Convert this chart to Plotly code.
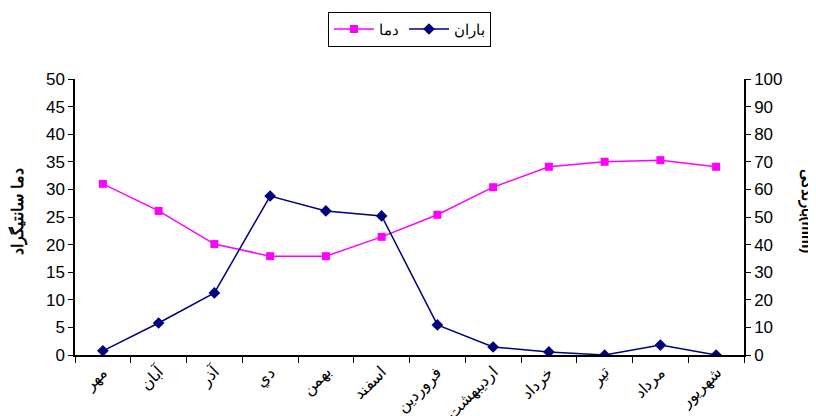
import plotly.graph_objects as go

months = ["مهر", "آبان", "آذر", "دي", "بهمن", "اسفند",
          "فروردین", "اردیبهشت", "خرداد", "تیر", "مرداد", "شهریور"]
temperature = [31.0, 26.1, 20.1, 17.9, 17.9, 21.4, 25.4, 30.4, 34.1, 35.0, 35.3, 34.1]
rainfall = [1.5, 11.6, 22.5, 57.6, 52.2, 50.4, 10.9, 2.9, 1.1, 0.0, 3.6, 0.0]

temp_name = "دما"
rain_name = "باران"
left_title = "دما سانتیگراد"
right_title = "بارندگی(mm)"

font_family = "Liberation Sans, Arial, sans-serif"

fig = go.Figure()
fig.add_trace(go.Scatter(
    x=months, y=temperature, name=temp_name, mode="lines+markers",
    line=dict(color="#FF00FF", width=1.5),
    marker=dict(symbol="square", size=8, color="#FF00FF"),
    yaxis="y"))
fig.add_trace(go.Scatter(
    x=months, y=rainfall, name=rain_name, mode="lines+markers",
    line=dict(color="#000080", width=1.5),
    marker=dict(symbol="diamond", size=9, color="#000080"),
    yaxis="y2"))

fig.update_layout(
    width=816, height=416,
    margin=dict(l=67, r=80, t=71, b=69),
    paper_bgcolor="white", plot_bgcolor="white",
    font=dict(family=font_family, size=16, color="black"),
    showlegend=True,
    legend=dict(orientation="h", x=0.5, xanchor="center",
                yref="container", y=0.991, yanchor="top",
                bordercolor="black", borderwidth=1, font=dict(size=15),
                itemwidth=40, tracegroupgap=0),
    xaxis=dict(type="category", range=[-0.5, len(months) - 0.5],
               showline=True, linecolor="black", linewidth=1.5,
               ticks="outside", ticklen=6, tickcolor="black", tickson="boundaries",
               tickangle=-45, showgrid=False, zeroline=False, automargin=False,
               tickfont=dict(size=16)),
    yaxis=dict(range=[0, 50], dtick=5, showline=True, linecolor="black", linewidth=1.5,
               ticks="outside", ticklen=5, tickcolor="black", showgrid=False,
               zeroline=False, automargin=False, tickfont=dict(size=17)),
    yaxis2=dict(range=[0, 100], dtick=10, overlaying="y", side="right", showline=True,
                linecolor="black", linewidth=1.5, ticks="outside", ticklen=5,
                tickcolor="black", showgrid=False, zeroline=False, automargin=False,
                tickfont=dict(size=17)),
    annotations=[
        dict(text="<b>" + left_title + "</b>", xref="paper", yref="paper",
             x=-0.085, y=0.52, xanchor="center", yanchor="middle", textangle=-90,
             showarrow=False, font=dict(size=16)),
        dict(text="<b>" + right_title + "</b>", xref="paper", yref="paper",
             x=1.094, y=0.52, xanchor="center", yanchor="middle", textangle=90,
             showarrow=False, font=dict(size=15)),
    ],
)

fig.write_html("out.html")
